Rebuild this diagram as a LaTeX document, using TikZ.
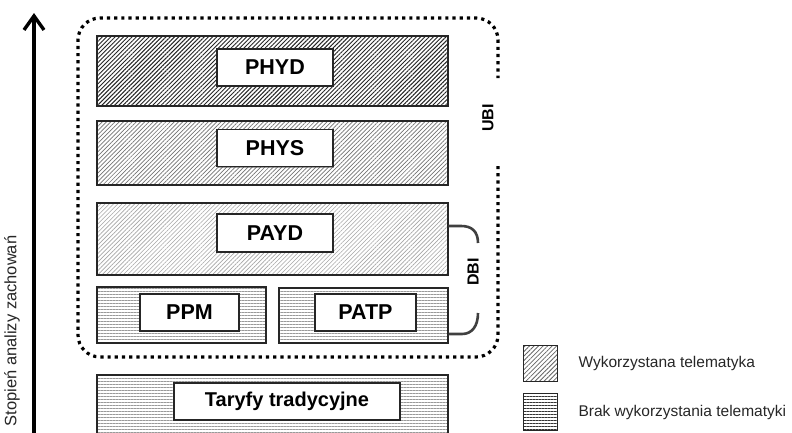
\documentclass[tikz,border=0pt]{standalone}
\usepackage{fontspec}
\setmainfont{Liberation Sans}
\usetikzlibrary{patterns.meta,arrows.meta,shadows}
\begin{document}
\begin{tikzpicture}[x=1pt,y=-1pt,
  tier/.style={draw=black!85,line width=1.3pt,inner sep=0pt,
    drop shadow={shadow xshift=1.2pt,shadow yshift=-1.2pt,opacity=.5,fill=black!70},
    preaction={fill=white}},
  hatchdark/.style={tier,pattern={Lines[angle=45,distance=3pt,line width=0.95pt]},pattern color=black!85},
  hatchmid/.style={tier,pattern={Lines[angle=45,distance=3pt,line width=0.7pt]},pattern color=black!55},
  hatchlight/.style={tier,pattern={Lines[angle=45,distance=3pt,line width=0.6pt]},pattern color=black!35},
  hlines/.style={tier,pattern={Lines[angle=0,distance=3pt,line width=0.55pt]},pattern color=black!40},
  lab/.style={draw=black!85,fill=white,line width=1.3pt,inner sep=0pt,
    font=\bfseries\fontsize{21.5}{24}\selectfont,
    drop shadow={shadow xshift=1pt,shadow yshift=-1pt,opacity=.5,fill=black!70}},
  side/.style={font=\bfseries\fontsize{16}{18}\selectfont,rotate=90},
  bracket/.style={draw=black!75,line width=2.6pt},
  legtext/.style={anchor=west,font=\fontsize{15.5}{18}\selectfont,text=black!85},
]
\useasboundingbox (0,0) rectangle (792,432);

% axis arrow
\coordinate (abot) at (34,434);
\coordinate (atop) at (34,13);
\draw[line width=3.2pt,-{Straight Barb[length=14pt 0,width=20pt 0,line width=3.4pt]}] (abot) -- (atop);
\node[rotate=90,font=\fontsize{16.5}{18}\selectfont,text=black!85] (axl) at (12,331) {Stopień analizy zachowań};

% dotted boundary
\draw[line width=3.2pt,dash pattern=on 3.2pt off 4pt,rounded corners=22pt]
  (498,166) -- (498,357) -- (78,357) -- (78,18) -- (498,18) -- (498,78);

% tiers
\node[hatchdark,minimum width=351pt,minimum height=70pt] (phydr) at (272.5,71) {};
\node[lab,minimum width=116pt,minimum height=37pt] (phyd) at (275,67.5) {PHYD};

\node[hatchmid,minimum width=351pt,minimum height=64pt] (physr) at (272.5,153) {};
\node[lab,minimum width=116pt,minimum height=37pt] (phys) at (275,148) {PHYS};

\node[hatchlight,minimum width=351pt,minimum height=72pt] (paydr) at (272.5,239) {};
\node[lab,minimum width=116pt,minimum height=38pt] (payd) at (275,233) {PAYD};

\node[hlines,minimum width=169pt,minimum height=56pt] (ppmr) at (181.5,315) {};
\node[lab,minimum width=99pt,minimum height=37pt] (ppm) at (189.5,312.5) {PPM};

\node[hlines,minimum width=169pt,minimum height=55pt] (patpr) at (363.5,315.5) {};
\node[lab,minimum width=101pt,minimum height=37pt] (patp) at (365.5,312.5) {PATP};

\node[hlines,minimum width=351pt,minimum height=70pt] (taryr) at (272.5,410) {};
\node[lab,minimum width=226pt,minimum height=37pt,font=\bfseries\fontsize{20}{22}\selectfont] (tary) at (287,401.5) {Taryfy tradycyjne};

% side labels
\node[side] (ubi) at (488,118) {UBI};
\node[side] (dbi) at (473,272) {DBI};

% DBI brackets
\coordinate (b1) at (paydr.east |- 0,226);
\coordinate (b2) at (patpr.east |- 0,334);
\draw[bracket] (b1) -- ++(13,0) .. controls +(10,0) and (478,231) .. (478,243);
\draw[bracket] (478,313) .. controls (478,326) and (472,334) .. (462,334) -- (b2);

% legend
\node[draw=black!85,line width=1pt,minimum width=34pt,minimum height=36pt,inner sep=0pt,
  pattern={Lines[angle=45,distance=3.2pt,line width=0.8pt]},pattern color=black!60] (leg1) at (540,363) {};
\node[legtext] (leg1t) at (575,363) {Wykorzystana telematyka};
\node[draw=black!85,line width=1pt,minimum width=34pt,minimum height=37pt,inner sep=0pt,
  pattern={Lines[angle=0,distance=3pt,line width=0.9pt]},pattern color=black!80] (leg2) at (540,411.5) {};
\node[legtext] (leg2t) at (575,412) {Brak wykorzystania telematyki};
\end{tikzpicture}
\end{document}
